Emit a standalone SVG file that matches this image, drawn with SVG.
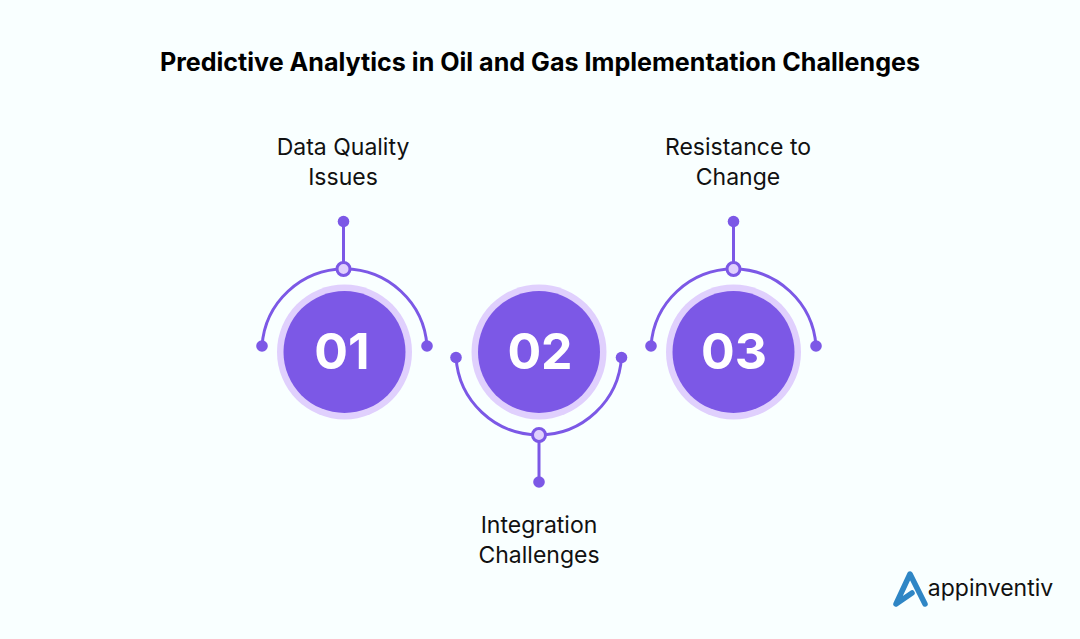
<svg xmlns="http://www.w3.org/2000/svg" width="1080" height="639" viewBox="0 0 1080 639">
<defs><style>
text{font-family:"Inter","Liberation Sans",sans-serif;text-anchor:middle}
.title{font-size:25.1px;font-weight:700;fill:#000}
.label{font-size:23px;font-weight:400;fill:#111}
.num{font-size:50px;font-weight:700;fill:#fff}
.halo{fill:#e0d0fd}
.disc{fill:#7c58e6}
.line{fill:none;stroke:#7c58e6;stroke-width:3}
.dot{fill:#7c58e6}
.joint{fill:#e0d0fd;stroke:#7c58e6;stroke-width:3}
</style></defs>
<rect width="1080" height="639" fill="#f9ffff"/>
<text class="title" x="540" y="71">Predictive Analytics in Oil and Gas Implementation Challenges</text>
<g id="connectors">
<path class="line" d="M262 346A82.700 82.700 0 0 1 427 346"/><path class="line" d="M343.500 222V269"/>
<path class="line" d="M456 357A82.900 82.900 0 0 0 621.500 357"/><path class="line" d="M539 435V482"/>
<path class="line" d="M651 346A82.700 82.700 0 0 1 816 346"/><path class="line" d="M733.500 222V269"/>
</g>
<g id="node-01">
<circle class="halo" cx="344.500" cy="352" r="67.500"/><circle class="disc" cx="344.500" cy="352" r="61"/>
<text class="num" x="342" y="369">01</text>
<circle class="dot" cx="262" cy="346" r="5.800"/><circle class="dot" cx="427" cy="346" r="5.800"/><circle class="dot" cx="343.500" cy="221.500" r="5.800"/>
<circle class="joint" cx="343.500" cy="269" r="6.500"/>
<text class="label" x="343" y="154.500">Data Quality</text><text class="label" x="343" y="184.500">Issues</text>
</g>
<g id="node-02">
<circle class="halo" cx="539" cy="352" r="67.500"/><circle class="disc" cx="539" cy="352" r="61"/>
<text class="num" x="540" y="369">02</text>
<circle class="dot" cx="456" cy="357.500" r="5.800"/><circle class="dot" cx="621.500" cy="357.500" r="5.800"/><circle class="dot" cx="539" cy="482" r="5.800"/>
<circle class="joint" cx="539" cy="435" r="6.500"/>
<text class="label" x="539" y="532.500">Integration</text><text class="label" x="539" y="562.500">Challenges</text>
</g>
<g id="node-03">
<circle class="halo" cx="733.500" cy="352" r="67.500"/><circle class="disc" cx="733.500" cy="352" r="61"/>
<text class="num" x="734" y="369">03</text>
<circle class="dot" cx="651" cy="346" r="5.800"/><circle class="dot" cx="816" cy="346" r="5.800"/><circle class="dot" cx="733.500" cy="221.500" r="5.800"/>
<circle class="joint" cx="733.500" cy="269" r="6.500"/>
<text class="label" x="738" y="154.500">Resistance to</text><text class="label" x="738" y="184.500">Change</text>
</g>
<g id="logo">
<path d="M925 604L910 574L896 604L912 593" fill="none" stroke="#2f86c5" stroke-width="5.500" stroke-linejoin="round" stroke-linecap="round"/>
<text x="990.500" y="596" style="font-size:23px;font-weight:400;fill:#111">appinventiv</text>
</g>
</svg>
